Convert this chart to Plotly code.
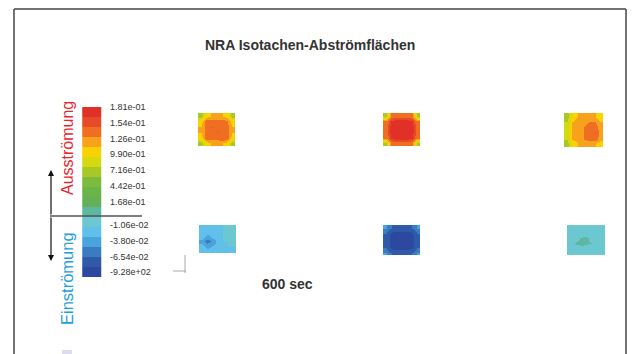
import plotly.graph_objects as go

# ---------------- data ----------------
title_text = "NRA Isotachen-Abströmflächen"
time_label = "600 sec"
upper_ticks = ["1.81e-01", "1.54e-01", "1.26e-01", "9.90e-01", "7.16e-01", "4.42e-01", "1.68e-01"]
lower_ticks = ["-1.06e-02", "-3.80e-02", "-6.54e-02", "-9.28e+02"]
out_label = "Ausströmung"
in_label = "Einströmung"

# band colours, index 0 = lowest (dark blue) ... 16 = highest (red)
band_colors = ["#2c48a0", "#2e5aa8", "#3a7cc4", "#4aa4dc", "#60c0ea", "#6cc8d0",
               "#5cb8a0", "#64b058", "#6ab44a", "#7cbb3c", "#a8c828", "#d6d810",
               "#f9d200", "#f7a11c", "#ef6e22", "#e64a26", "#e03028"]
band_index = list(range(len(band_colors)))

# velocity-band fields of the six outlet / inlet surfaces (band index units)
blob_top_left = [
    [10, 12, 12.5, 12.5, 12.5, 12, 10],
    [12, 14, 14, 14, 14, 13.5, 12],
    [12.5, 14, 14.5, 14, 13.5, 14, 12.5],
    [12.5, 14, 14, 14.5, 14, 14, 12.5],
    [12, 14, 14, 14, 14.5, 14, 12],
    [10, 12, 12.5, 12.5, 12.5, 12, 10],
]
blob_top_mid = [
    [10, 13.5, 14, 14, 14, 13.5, 10],
    [13.5, 15.5, 16, 16, 16, 15.5, 13.5],
    [14, 16, 16, 16, 16, 16, 14],
    [14, 16, 16, 16, 16, 16, 14],
    [13.5, 15.5, 16, 16, 16, 15.5, 13.5],
    [10, 13.5, 14, 14, 14, 13.5, 10],
]
blob_top_right = [
    [10, 11.5, 12.5, 12.5, 12.5, 12.5, 11.5],
    [10.5, 12.5, 13, 13, 13.5, 13.5, 12.5],
    [10.5, 12.5, 13, 13.5, 14, 14, 13],
    [10.5, 12.5, 13, 13.5, 14, 14.5, 13],
    [10.5, 12.5, 13, 13.5, 14, 14, 13],
    [10, 11.5, 12.5, 12.5, 12.5, 12.5, 11.5],
]
blob_bot_left = [
    [4, 4, 4, 4, 4.5, 4.5, 4.5],
    [4, 4, 4, 4, 4.5, 4.8, 4.5],
    [4, 3, 3.8, 4, 4.5, 4.8, 4.5],
    [3, 2, 2.5, 4, 4.5, 4.5, 4.5],
    [4, 3, 3.5, 4, 4.2, 4.5, 4.5],
    [4, 4, 4, 4, 4, 4, 4],
]
blob_bot_mid = [
    [2.5, 1.5, 1.2, 1.2, 1.2, 1.5, 2.5],
    [1.5, 0.3, 0.2, 0.2, 0.2, 0.3, 1.5],
    [1.2, 0.2, 0.1, 0.1, 0.1, 0.2, 1.2],
    [1.2, 0.2, 0.1, 0.1, 0.1, 0.2, 1.2],
    [1.5, 0.3, 0.2, 0.2, 0.2, 0.3, 1.5],
    [2.5, 1.5, 1.2, 1.2, 1.2, 1.5, 2.5],
]
blob_bot_right = [
    [4.6, 4.6, 4.6, 4.6, 4.6, 4.6, 4.6],
    [4.6, 5, 5, 5, 5.2, 5, 4.6],
    [4.6, 5, 5.6, 5.7, 5.2, 5, 4.6],
    [4.6, 5.6, 5.8, 5.7, 5.5, 5.2, 4.6],
    [4.6, 5, 5.2, 5, 5, 5, 4.6],
    [4.6, 4.6, 4.6, 4.6, 4.6, 4.6, 4.6],
]

# ---------------- layout helpers ----------------
W, H = 637, 354
n = len(band_colors)
zmin, zmax = -0.5, n - 0.5
cscale = []
for i, c in enumerate(band_colors):
    cscale.append([i / n, c])
    cscale.append([(i + 1) / n, c])

fig = go.Figure()

# colour bar as a column heatmap
bar_top, bar_bot = 107, 277
band_h = (bar_bot - bar_top) / n
fig.add_trace(go.Heatmap(
    z=[[v, v] for v in band_index],
    x=[87, 96.5],
    y=[bar_bot - band_h * (i + 0.5) for i in band_index],
    colorscale=cscale, zmin=zmin, zmax=zmax,
    showscale=False, hoverinfo="skip",
))

def add_blob(grid, x0, x1, y0, y1):
    rows, cols = len(grid), len(grid[0])
    dx = (x1 - x0) / cols
    dy = (y1 - y0) / rows
    fig.add_trace(go.Heatmap(
        z=grid,
        x=[x0 + dx * (j + 0.5) for j in range(cols)],
        y=[y0 + dy * (i + 0.5) for i in range(rows)],
        colorscale=cscale, zmin=zmin, zmax=zmax, zsmooth="best",
        showscale=False, hoverinfo="skip",
    ))

add_blob(blob_top_left, 198, 235, 113, 146)
add_blob(blob_top_mid, 383, 420, 113, 146)
add_blob(blob_top_right, 564, 603, 113, 147)
add_blob(blob_bot_left, 199, 236, 225, 253)
add_blob(blob_bot_mid, 383, 420, 225, 255)
add_blob(blob_bot_right, 567, 605, 225, 255)

annotations = []
# tick labels
step = 15.8
for i, t in enumerate(upper_ticks):
    annotations.append(dict(x=108, y=107 + i * step, text=t, xanchor="left", yanchor="middle",
                            showarrow=False, font=dict(family="Liberation Sans", size=9, color="#333")))
for i, t in enumerate(lower_ticks):
    annotations.append(dict(x=108, y=225 + i * step, text=t, xanchor="left", yanchor="middle",
                            showarrow=False, font=dict(family="Liberation Sans", size=9, color="#333")))

annotations.append(dict(x=67, y=148, text=out_label, textangle=-90, showarrow=False,
                        font=dict(family="Liberation Sans", size=16, color="#e8262d")))
annotations.append(dict(x=67, y=279, text=in_label, textangle=-90, showarrow=False,
                        font=dict(family="Liberation Sans", size=16.5, color="#1ea0dc")))
annotations.append(dict(x=310, y=45, text="<b>" + title_text + "</b>", showarrow=False,
                        font=dict(family="Liberation Sans", size=14, color="#333")))
annotations.append(dict(x=287, y=284, text="<b>" + time_label + "</b>", showarrow=False,
                        font=dict(family="Liberation Sans", size=14, color="#333")))
# double arrow
for tip in (170, 261):
    annotations.append(dict(x=51, y=tip, ax=51, ay=216, xref="x", yref="y", axref="x", ayref="y",
                            text="", showarrow=True, arrowhead=2, arrowsize=1, arrowwidth=1.2,
                            arrowcolor="#111"))

shapes = [
    dict(type="line", x0=50, x1=142, y0=216, y1=216, line=dict(color="#555", width=1.6)),
    # frame
    dict(type="line", x0=14, x1=14, y0=9, y1=354, line=dict(color="#444", width=1.5)),
    dict(type="line", x0=14, x1=626, y0=9, y1=9, line=dict(color="#444", width=1.5)),
    dict(type="line", x0=626, x1=626, y0=9, y1=354, line=dict(color="#444", width=1.5)),
    # axis triad glyph
    dict(type="line", x0=185, x1=185, y0=255, y1=273, line=dict(color="#aaa", width=1)),
    dict(type="line", x0=173, x1=186, y0=271, y1=271, line=dict(color="#aaa", width=1)),
    dict(type="rect", x0=62, x1=72, y0=350, y1=354, line=dict(width=0), fillcolor="#dcdcee"),
]

fig.update_layout(
    width=W, height=H, autosize=False,
    margin=dict(l=0, r=0, t=0, b=0),
    paper_bgcolor="white", plot_bgcolor="white",
    xaxis=dict(range=[0, W], visible=False, fixedrange=True),
    yaxis=dict(range=[H, 0], visible=False, fixedrange=True),
    annotations=annotations, shapes=shapes, showlegend=False,
)

fig.write_html("out.html")
